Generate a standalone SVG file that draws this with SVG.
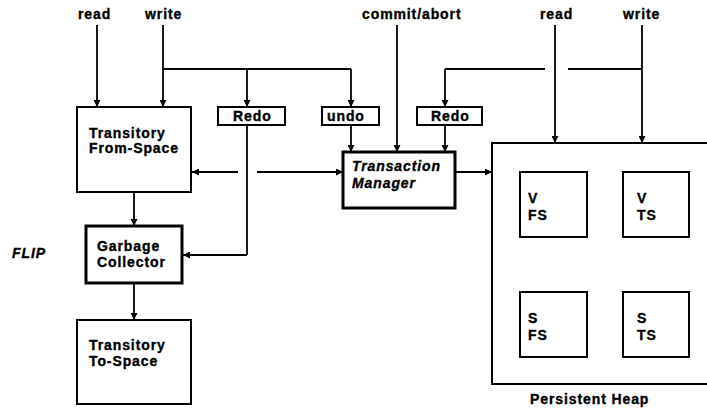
<svg xmlns="http://www.w3.org/2000/svg" width="707" height="410" viewBox="0 0 707 410">
<style>
text{font-family:"Liberation Sans",Arial,sans-serif;font-weight:bold;font-size:14px;letter-spacing:0.9px;fill:#000;stroke:#000;stroke-width:0.35}
.it{font-style:italic}
.box{fill:#fff;stroke:#000;stroke-width:2}
.thick{fill:#fff;stroke:#000;stroke-width:3}
.ln{fill:none;stroke:#000;stroke-width:1.8}
.ar{fill:none;stroke:#000;stroke-width:1.8;marker-end:url(#ah)}
</style>
<defs>
<marker id="ah" viewBox="0 0 10 10" refX="10" refY="5" markerWidth="7" markerHeight="7" markerUnits="userSpaceOnUse" orient="auto">
<path d="M0,0 L10,5 L0,10 z" fill="#000"/>
</marker>
</defs>
<g id="labels">
<text x="78" y="19">read</text>
<text x="145" y="19">write</text>
<text x="362" y="19">commit/abort</text>
<text x="540" y="19">read</text>
<text x="623" y="19">write</text>
<text class="it" x="12" y="258" letter-spacing="0">FLIP</text>
</g>
<g id="connectors">
<path class="ar" d="M97,25 V107"/>
<path class="ar" d="M163,25 V107"/>
<path class="ln" d="M163,69 H351"/>
<path class="ar" d="M247,69 V107"/>
<path class="ar" d="M351,69 V107"/>
<path class="ar" d="M351,125 V152"/>
<path class="ar" d="M397,25 V152"/>
<path class="ar" d="M445,125 V152"/>
<path class="ln" d="M642,69 H568"/>
<path class="ln" d="M545,69 H445"/>
<path class="ar" d="M445,69 V107"/>
<path class="ar" d="M555,25 V143"/>
<path class="ar" d="M642,25 V143"/>
<path class="ar" d="M238,172 H192"/>
<path class="ar" d="M257,172 H343"/>
<path class="ar" d="M455,172 H492"/>
<path class="ln" d="M247,125 V255"/>
<path class="ar" d="M247,255 H183"/>
<path class="ar" d="M134,192 V226"/>
<path class="ar" d="M134,283 V320"/>
</g>
<g id="from-space">
<rect class="box" x="77" y="107" width="114" height="85"/>
<text x="89" y="138">Transitory</text>
<text x="89" y="153" letter-spacing="0.4">From-Space</text>
</g>
<g id="redo1">
<rect class="box" x="218" y="107" width="67" height="18"/>
<text x="233" y="121" letter-spacing="0.5">Redo</text>
</g>
<g id="undo">
<rect class="box" x="322" y="107" width="57" height="18"/>
<text x="327" y="121" letter-spacing="0.5">undo</text>
</g>
<g id="redo2">
<rect class="box" x="417" y="107" width="65" height="18"/>
<text x="431" y="121" letter-spacing="0.5">Redo</text>
</g>
<g id="transaction-manager">
<rect class="thick" x="343" y="152" width="112" height="56"/>
<text class="it" x="352" y="171" letter-spacing="0.3">Transaction</text>
<text class="it" x="352" y="188" letter-spacing="0.3">Manager</text>
</g>
<g id="garbage-collector">
<rect class="thick" x="86" y="226" width="96" height="57"/>
<text x="97" y="251" letter-spacing="0.5">Garbage</text>
<text x="97" y="267" letter-spacing="0.6">Collector</text>
</g>
<g id="to-space">
<rect class="box" x="77" y="320" width="114" height="84"/>
<text x="89" y="350">Transitory</text>
<text x="89" y="366" letter-spacing="0.6">To-Space</text>
</g>
<g id="persistent-heap">
<rect class="box" x="492" y="143" width="230" height="241"/>
<text x="530" y="404" letter-spacing="0.5">Persistent Heap</text>
</g>
<g id="v-fs">
<rect class="box" x="520" y="172" width="67" height="65"/>
<text x="528" y="203">V</text>
<text x="528" y="220">FS</text>
</g>
<g id="v-ts">
<rect class="box" x="623" y="172" width="66" height="65"/>
<text x="637" y="203">V</text>
<text x="637" y="220">TS</text>
</g>
<g id="s-fs">
<rect class="box" x="520" y="292" width="67" height="65"/>
<text x="528" y="323">S</text>
<text x="528" y="340">FS</text>
</g>
<g id="s-ts">
<rect class="box" x="623" y="292" width="66" height="65"/>
<text x="637" y="323">S</text>
<text x="637" y="340">TS</text>
</g>
</svg>
